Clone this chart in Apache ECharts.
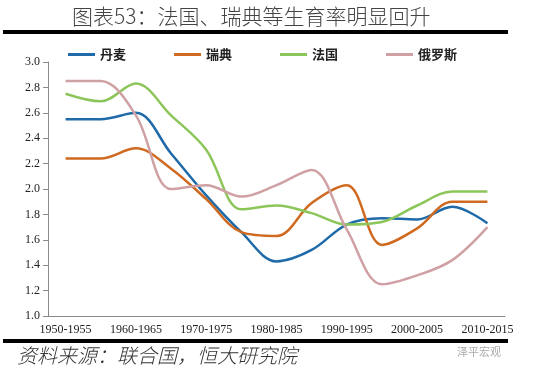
<!DOCTYPE html>
<html>
<head>
<meta charset="utf-8">
<script src="https://cdn.jsdelivr.net/npm/echarts@6/dist/echarts.min.js"></script>
<style>
  html, body { margin: 0; padding: 0; background: #fff; }
  #chart { width: 550px; height: 376px; }
</style>
</head>
<body>
<div id="chart"></div>
<script>
// 五年期间
const periods = [
  '1950-1955', '1955-1960', '1960-1965', '1965-1970', '1970-1975', '1975-1980', '1980-1985',
  '1985-1990', '1990-1995', '1995-2000', '2000-2005', '2005-2010', '2010-2015'
];
// 总和生育率
const denmark = [2.55, 2.55, 2.60, 2.28, 1.95, 1.66, 1.43, 1.52, 1.72, 1.77, 1.76, 1.86, 1.73];
const sweden  = [2.24, 2.24, 2.32, 2.16, 1.92, 1.66, 1.63, 1.89, 2.03, 1.56, 1.69, 1.90, 1.90];
const france  = [2.75, 2.69, 2.83, 2.58, 2.31, 1.84, 1.87, 1.81, 1.72, 1.74, 1.87, 1.98, 1.98];
const russia  = [2.85, 2.85, 2.58, 2.00, 2.03, 1.94, 2.03, 2.15, 1.68, 1.25, 1.32, 1.44, 1.70];

const names = ['丹麦', '瑞典', '法国', '俄罗斯'];
const colors = ['#1F6AA8', '#D06A20', '#8CC65A', '#CFA0A4'];

const chart = echarts.init(document.getElementById('chart'));

const serif = '"Liberation Serif", "Times New Roman", serif';
const cjk = '"Noto Sans CJK SC", sans-serif';

const mkSeries = (name, data, color) => ({
  name,
  type: 'line',
  data,
  smooth: 0.35,
  symbol: 'none',
  lineStyle: { color, width: 2.5 },
  itemStyle: { color }
});

chart.setOption({
  animation: false,
  backgroundColor: '#fff',
  grid: { left: 48, right: 45, top: 62, bottom: 60 },
  legend: {
    left: 63,
    top: 43,
    itemGap: 48,
    itemWidth: 27,
    itemHeight: 3,
    icon: 'rect',
    textStyle: { fontFamily: cjk, fontSize: 13, fontWeight: 'bold', color: '#222' },
    data: names
  },
  xAxis: {
    type: 'category',
    data: periods,
    boundaryGap: true,
    axisLine: { lineStyle: { color: '#8a8a8a', width: 1 } },
    axisTick: { interval: 0, inside: true, length: 4, lineStyle: { color: '#8a8a8a' } },
    axisLabel: { interval: 1, fontFamily: serif, fontSize: 12, color: '#222', margin: 8 },
    splitLine: { show: false }
  },
  yAxis: {
    type: 'value',
    min: 1.0,
    max: 3.0,
    interval: 0.2,
    axisLine: { show: true, lineStyle: { color: '#8a8a8a', width: 1 } },
    axisTick: { show: true, length: 5, lineStyle: { color: '#8a8a8a' } },
    axisLabel: {
      fontFamily: serif, fontSize: 12, color: '#222', margin: 8,
      formatter: v => v.toFixed(1)
    },
    splitLine: { show: false }
  },
  series: [
    mkSeries(names[0], denmark, colors[0]),
    mkSeries(names[1], sweden, colors[1]),
    mkSeries(names[2], france, colors[2]),
    mkSeries(names[3], russia, colors[3])
  ],
  graphic: [
    {
      type: 'text', left: 72, top: 6,
      style: { text: '图表53：法国、瑞典等生育率明显回升', font: '300 21px ' + cjk, fill: '#444' }
    },
    { type: 'rect', shape: { x: 3, y: 30, width: 505, height: 4 }, style: { fill: '#000' } },
    { type: 'rect', shape: { x: 3, y: 339, width: 505, height: 4 }, style: { fill: '#000' } },
    {
      type: 'text', left: 17, top: 345,
      style: { text: '资料来源：联合国，恒大研究院', font: 'italic 300 20px ' + cjk, fill: '#333' }
    },
    {
      type: 'text', left: 457, top: 346,
      style: { text: '泽平宏观', font: '11px ' + cjk, fill: '#aaa' }
    }
  ]
});
</script>
</body>
</html>
